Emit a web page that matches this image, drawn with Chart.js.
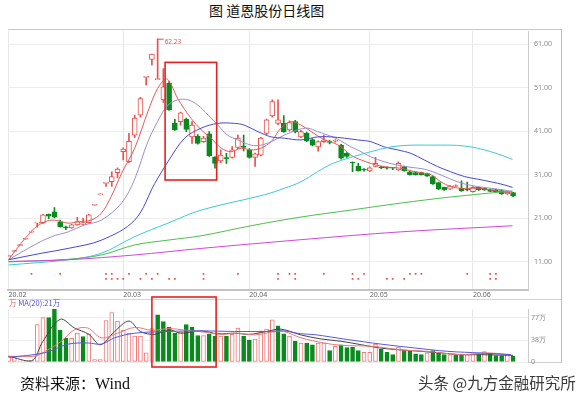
<!DOCTYPE html>
<html>
<head>
<meta charset="utf-8">
<script src="https://cdn.jsdelivr.net/npm/chart.js@4.4.1/dist/chart.umd.min.js"></script>
<style>
  body { margin: 0; background: #fff; width: 577px; height: 400px; position: relative; overflow: hidden; font-family: "Noto Sans CJK SC", sans-serif; }
  canvas { position: absolute; left: 0; }
  #price { top: 0; }
  #vol { top: 290px; }
  .rule { position: absolute; background: #c8c8c8; }
  #title { position: absolute; left: 209px; top: 1px; font-size: 14px; line-height: 18px; color: #111; white-space: nowrap; }
  #volLegend { position: absolute; left: 9px; top: 298px; font-size: 7.5px; line-height: 10px; white-space: nowrap; }
  #source { position: absolute; left: 20px; top: 373px; font-size: 15px; line-height: 20px; color: #111; white-space: nowrap; }
  #source span { font-family: "Liberation Serif", serif; font-size: 16px; }
  #mark { position: absolute; left: 418px; top: 372px; font-size: 15.5px; line-height: 20px; color: #3a3a3a; white-space: nowrap; }
</style>
</head>
<body>
<div id="title">图 道恩股份日线图</div>
<div class="rule" style="left:8px;top:29px;width:553px;height:1px"></div>
<div class="rule" style="left:561px;top:29px;width:1px;height:334px;background:#bdbdbd"></div>
<div class="rule" style="left:8px;top:299px;width:553px;height:1px;background:#d4d4d4"></div>
<div class="rule" style="left:8px;top:362px;width:553px;height:1px;background:#d0d0d0"></div>
<canvas id="price" width="577" height="300"></canvas>
<canvas id="vol" width="577" height="80"></canvas>
<div id="volLegend"><span style="color:#e06060">万</span> <span style="color:#4f4fd0">MA(20):21万</span></div>
<div id="source">资料来源：<span>Wind</span></div>
<div id="mark">头条 @九方金融研究所</div>
<script>
// trading days, 0 = first day of Feb 2020
var dateTicks = [0, 20, 42, 63, 81];
var dateLabels = ["20.02", "20.03", "20.04", "20.05", "20.06"];
var priceTicks = [11, 21, 31, 41, 51, 61];
var volTicks = [0, 38, 77];

var openP = [12.2,13.4,14.75,16.2,17.85,19.9,20.0,22.0,22.5,20.2,
  18.9,18.8,19.5,19.6,20.0,24.0,26.4,29.04,29.4,31.5,
  36.3,34.0,40.1,44.7,53.35,57.5,52.83,48.2,52.0,42.8,
  43.2,43.7,39.7,39.9,38.6,40.4,35.0,34.2,34.9,35.0,
  37.3,37.6,36.7,35.0,35.5,40.5,44.5,42.8,42.8,41.3,
  43.2,39.7,40.5,39.1,37.4,38.6,38.6,38.7,37.8,35.9,
  33.9,33.0,32.2,31.9,32.9,32.8,32.6,32.6,32.1,32.9,
  31.7,31.5,31.5,31.3,30.6,29.2,28.1,27.7,28.3,27.9,
  27.6,27.1,28.1,27.9,27.6,27.6,27.4,26.6,26.9];
var closeP = [12.2,13.4,14.75,16.2,17.85,19.9,21.8,21.5,21.25,19.1,
  18.8,19.5,20.25,20.0,21.8,24.0,26.4,29.04,30.6,32.3,
  36.9,38.7,44.0,48.5,53.35,58.7,52.9,51.2,45.9,41.3,
  45.2,41.4,42.4,38.2,39.4,35.3,33.6,35.5,34.7,36.7,
  39.4,37.3,35.0,35.8,39.4,43.6,47.8,43.6,40.9,43.0,
  40.9,40.9,38.8,37.8,38.6,39.0,38.4,38.9,34.8,35.2,
  33.7,31.9,32.1,32.6,33.6,32.6,32.5,32.5,33.6,31.9,
  31.0,31.0,31.0,30.7,28.9,27.7,27.5,28.4,28.5,27.3,
  27.5,28.1,27.5,27.5,27.2,27.1,26.6,27.1,26.1];
var highP = [12.2,13.4,14.75,16.2,17.85,19.9,21.9,22.0,23.45,20.6,
  19.2,19.6,21.25,21.0,22.0,24.0,26.4,29.04,31.7,32.6,
  37.2,40.5,44.7,48.8,53.35,58.7,62.23,55.4,52.4,43.7,
  45.4,44.0,43.2,40.2,39.8,40.9,35.2,36.7,35.9,37.5,
  40.1,40.1,37.0,36.0,39.6,43.8,48.2,48.2,44.6,43.4,
  43.5,41.2,40.8,39.3,38.8,40.1,38.9,39.1,38.0,36.1,
  34.0,33.6,32.4,32.8,35.0,33.0,32.8,32.7,34.0,33.0,
  31.8,31.6,31.6,31.4,30.7,29.3,28.2,28.5,28.7,29.6,
  29.3,28.3,28.2,28.0,27.7,27.7,27.5,27.2,27.0];
var lowP = [12.2,13.4,14.75,16.2,17.85,19.0,19.8,20.9,21.1,19.0,
  18.4,18.7,19.4,19.6,19.9,24.0,26.4,28.3,28.3,30.3,
  34.4,33.8,39.5,44.2,51.6,56.2,52.83,47.6,45.8,41.2,
  42.4,40.9,38.2,38.0,38.4,35.2,32.5,33.8,33.6,34.8,
  37.0,36.5,34.8,32.9,35.3,40.2,44.2,42.5,40.7,41.0,
  40.6,39.5,38.6,37.6,36.4,38.4,38.1,38.5,34.6,35.0,
  31.7,31.8,31.8,31.7,32.8,32.4,32.3,32.2,32.0,31.8,
  30.9,30.9,30.9,30.6,28.8,27.6,27.4,27.6,28.2,27.2,
  27.3,27.0,27.4,27.4,27.1,27.0,26.5,26.5,26.0];

// volume in 万 shares, volUp 1 = hollow bar
var volume = [10,9,2,2,3,65,77,77,92,55,
  41,41,50,44,49,4,4,72,86,71,
  55,50,45,45,16,58,82,70,60,50,
  52,65,60,46,46,48,45,45,45,48,
  59,45,38,40,54,57,73,63,49,45,
  36,33,33,30,33,33,20,27,30,25,
  26,20,17,17,31,22,17,13,26,20,
  19,14,13,16,20,17,13,13,13,13,
  13,14,13,18,14,11,11,13,10];
var volUp = [1,1,1,1,1,1,1,0,0,0,
  0,1,1,0,1,1,1,1,1,1,
  1,1,1,1,1,1,0,0,0,0,
  1,0,0,0,1,0,0,1,0,1,
  1,0,0,1,1,1,1,0,0,1,
  0,1,0,0,1,1,0,1,0,0,
  0,0,1,1,1,0,0,0,1,0,
  0,0,0,1,0,0,0,1,0,0,
  1,1,0,1,0,0,0,1,0];

// moving averages: [day, value]
var ma5 = [[0,11.5],[2.2,15.3],[4.5,18.7],[6.3,20.2],[8,20.6],[10.4,19.9],[12.1,20.2],[14.4,20.6],[16.2,22.2],[17.9,26],[19.7,31.3],[22,37.1],[24.3,45.5],[26,50.8],[27.5,53],[28.4,51.6],[29.5,48.5],[31.8,44],[33.6,41.3],[35.3,39.4],[37.1,37.1],[38.8,36.3],[40.6,37.1],[42.3,36.7],[44,37.1],[45.8,38.6],[47.5,41.7],[49.3,43.2],[51,42.4],[52.8,40.9],[55.1,39],[56.2,38.6],[58,37.4],[59.7,35.5],[61.5,34.4],[63.2,33.6],[64.9,33],[66.7,32.7],[68.4,32.5],[70.2,31.9],[71.9,31.5],[73.7,31],[75.4,29.4],[77.1,28.3],[78.9,27.9],[80.6,27.9],[82.4,27.9],[84.1,27.5],[85.9,27.1],[87.9,26.8]];
var ma10 = [[0,11.5],[4.5,14.9],[7.5,16.8],[10.4,17.9],[13.3,19.5],[16.2,20.6],[19.7,24.5],[22,30],[24.3,38.6],[26.6,44.7],[27.8,47],[29.5,48.2],[31.3,48.2],[33,47],[34.8,44.7],[36.5,42.4],[38.2,40.1],[40,39],[42.3,37.8],[44,37.8],[45.8,38.6],[48.1,40.1],[50.4,41.3],[52.2,41.7],[53.9,40.9],[55.7,40.1],[57.4,39.2],[59.7,37.4],[60.9,36.7],[63.2,35.1],[65.5,34],[67.9,33.2],[70.2,32.7],[72.5,32.3],[74.8,31.3],[77.1,30],[79.5,28.9],[81.8,28.3],[84.1,27.9],[86.4,27.5],[87.9,27.1]];
var ma20 = [[0,11.5],[5.8,13],[10.4,14.1],[16.2,16],[22,20.6],[25.5,29],[27.8,34],[30.7,39.4],[33.6,41.7],[36.5,42.8],[39.4,42.8],[41.1,42.4],[43.5,40.9],[45.8,39.7],[48.1,39.4],[51,39],[53.9,39.7],[56.2,39.7],[58.6,39.4],[60.9,39],[63.2,38.6],[65.5,37.4],[67.9,36.7],[70.2,35.9],[72.5,34.4],[74.8,32.9],[77.1,31.7],[79.5,30.6],[81.8,30],[84.1,29.4],[86.4,28.7],[87.9,28.1]];
var ma60 = [[0,10.3],[10.4,11.5],[16.2,13],[22,16.8],[27.8,19.9],[33.6,22.9],[44.6,26.4],[48.1,27.9],[51,29.4],[53.9,31.7],[56.2,33.4],[59.7,35],[63.2,36.3],[66.7,37.4],[70.2,37.8],[73.7,37.8],[77.1,37.8],[79.5,37.6],[81.8,37.1],[84.1,36.3],[86.4,35.3],[87.9,34.5]];
var ma120 = [[0,11],[10.4,11.6],[16.2,12.6],[22,14.9],[27.8,16],[33.6,17],[42.3,19.3],[51,21.3],[59.7,22.9],[68.4,24.5],[77.1,25.9],[87.9,27.3]];
var ma250 = [[0,11.1],[10.4,11.5],[22,12.6],[33.6,14.1],[51,16.1],[68.4,17.9],[87.9,19.3]];

var volMa5 = [[0,10],[4,2],[6,36],[9,74],[11.5,59],[14,48],[16,30],[18.5,53],[21,71],[23,53],[25.5,48],[28,56],[30,50],[33.5,54],[36.5,49],[39.5,50],[42,48],[45,53],[47.5,57],[51,47],[54.5,40],[58,36],[61.5,30],[65,24],[68.4,21],[71.9,18.5],[75.4,15.7],[78.9,12.7],[82.4,12.7],[88,11.5]];
var volMa10 = [[0,10],[4.5,10],[6.3,18],[9.2,36],[11.5,56],[13.8,59],[16.2,42],[19,50],[22,60],[25,55],[28,58],[31,55],[34,52],[37,48],[40,50],[43,47],[46,52],[48,53],[51,42],[55,33],[58,29],[63.8,27],[68.4,21],[73,18.5],[78.9,12.7],[83.5,15.7],[87.6,12.7]];
var volMa20 = [[0,8],[6.3,16],[10.4,31],[13.9,33],[16.2,31],[18.5,42],[22,50],[27.8,53],[33.6,54],[39.4,53],[45.2,53],[48,54],[51,49],[53.3,47.6],[59.1,39],[65,31],[70.8,24.4],[76.6,18.5],[82.4,15.7],[87.6,12.7]];

// event marks under the candles
var markRow1 = [4,9,17,18,21,24,26,34,40,47,49,50,55,60,62,70,71,72,80,84,85];
var markRow2 = [17,18,19,20,23,25,28,29,34,47,50,60,61,66,67,69,84,85];

var RED = "#e8504a";
var GREEN = "#0a8a1e";
var days = openP.map(function(v, i) { return i; });
function up(i) { return closeP[i] >= openP[i]; }
function pts(arr) { return arr.map(function(p) { return { x: p[0], y: p[1] }; }); }
function maLine(arr, color) {
  return { type: "line", data: pts(arr), borderColor: color, borderWidth: 1, pointRadius: 0, tension: 0.35, order: 0 };
}

var smallFont = { family: "'Noto Sans', sans-serif", size: 7 };

// red boxes and the 62.23 note
var pricePlugin = {
  id: "priceNotes",
  afterDatasetsDraw: function(chart) {
    var c = chart.ctx, xs = chart.scales.x, ys = chart.scales.y;
    var hi = highP.indexOf(Math.max.apply(null, highP));
    var px = xs.getPixelForValue(hi), py = ys.getPixelForValue(highP[hi]);
    c.save();
    c.strokeStyle = RED; c.lineWidth = 1;
    c.beginPath(); c.moveTo(px, py + 0.5); c.lineTo(px + 6, py + 0.5); c.stroke();
    c.fillStyle = RED; c.font = "6.5px 'Noto Sans'"; c.textBaseline = "middle";
    c.fillText(highP[hi].toFixed(2), px + 7, py + 3);
    c.strokeStyle = "#e8211e"; c.lineWidth = 1.6;
    var x1 = xs.getPixelForValue(27.3), x2 = xs.getPixelForValue(36.3);
    var y1 = ys.getPixelForValue(56.8), y2 = ys.getPixelForValue(29.8);
    c.strokeRect(x1, y1, x2 - x1, y2 - y1);
    c.restore();
  }
};
var volPlugin = {
  id: "volBox",
  afterDatasetsDraw: function(chart) {
    var c = chart.ctx, xs = chart.scales.x, a = chart.chartArea;
    var x1 = xs.getPixelForValue(25), x2 = xs.getPixelForValue(36.2);
    c.save();
    c.strokeStyle = "#e8211e"; c.lineWidth = 1.6;
    c.strokeRect(x1, a.top - 12, x2 - x1, a.bottom - a.top + 17);
    c.restore();
  }
};

var xBase = {
  type: "linear", min: -0.1, max: 90.6, offset: false,
  afterBuildTicks: function(s) { s.ticks = dateTicks.map(function(v) { return { value: v }; }); },
  grid: { color: "#e6e6e6", drawTicks: false, offset: false }
};

new Chart(document.getElementById("price"), {
  type: "bar",
  data: {
    datasets: [
      maLine(ma250, "#d048d8"),
      maLine(ma120, "#4cbf4c"),
      maLine(ma60, "#3cc8dc"),
      maLine(ma20, "#4848d0"),
      maLine(ma10, "#9a90c8"),
      maLine(ma5, "#e05a5a"),
      {
        data: days.map(function(i) { return { x: i, y: [lowP[i], highP[i]] }; }),
        backgroundColor: days.map(function(i) { return up(i) ? RED : GREEN; }),
        barThickness: 1, minBarLength: 1, grouped: false, order: 2
      },
      {
        data: days.map(function(i) { return { x: i, y: [openP[i], closeP[i]] }; }),
        backgroundColor: days.map(function(i) { return up(i) ? "#ffffff" : GREEN; }),
        borderColor: days.map(function(i) { return up(i) ? RED : GREEN; }),
        borderWidth: 1, borderSkipped: false, barThickness: 5, minBarLength: 1, grouped: false, order: 1
      },
      {
        type: "scatter",
        data: markRow1.map(function(i) { return { x: i, y: 8.25 }; }).concat(markRow2.map(function(i) { return { x: i, y: 7.1 }; })),
        pointStyle: "rect", pointRadius: 1.2, backgroundColor: RED, borderWidth: 0, order: 0
      }
    ]
  },
  options: {
    responsive: false, animation: false,
    layout: { padding: { left: 8, right: 16, top: 31, bottom: 0 } },
    plugins: { legend: { display: false }, tooltip: { enabled: false } },
    scales: {
      x: Object.assign({}, xBase, {
        position: "bottom",
        afterFit: function(s) { s.height = 10; },
        ticks: { align: "start", padding: 1, maxRotation: 0, autoSkip: false, font: smallFont, color: "#666",
          callback: function(v) { return dateLabels[dateTicks.indexOf(v)]; } },
        border: { color: "#c4c4c4", width: 2 }
      }),
      y: {
        position: "right", min: 4.6, max: 64,
        afterBuildTicks: function(s) { s.ticks = priceTicks.map(function(v) { return { value: v }; }); },
        afterFit: function(s) { s.width = 33; },
        ticks: { padding: 6, font: smallFont, color: "#888", callback: function(v) { return v.toFixed(2); } },
        grid: { color: "#ededed", drawTicks: false },
        border: { color: "#cccccc" }
      }
    }
  },
  plugins: [pricePlugin]
});

new Chart(document.getElementById("vol"), {
  type: "bar",
  data: {
    datasets: [
      { type: "line", data: pts(volMa20), borderColor: "#5858e0", borderWidth: 1, pointRadius: 0, tension: 0.35, order: 0 },
      { type: "line", data: pts(volMa10), borderColor: "#e87878", borderWidth: 1, pointRadius: 0, tension: 0.35, order: 0 },
      { type: "line", data: pts(volMa5), borderColor: "#444444", borderWidth: 1, pointRadius: 0, tension: 0.35, order: 0 },
      {
        data: days.map(function(i) { return { x: i, y: volume[i] }; }),
        backgroundColor: days.map(function(i) { return volUp[i] ? "#ffffff" : GREEN; }),
        borderColor: days.map(function(i) { return volUp[i] ? "#f07878" : GREEN; }),
        borderWidth: 1, borderSkipped: false, barThickness: 4, grouped: false, order: 1
      }
    ]
  },
  options: {
    responsive: false, animation: false,
    layout: { padding: { left: 8, right: 16, top: 19, bottom: 8 } },
    plugins: { legend: { display: false }, tooltip: { enabled: false } },
    scales: {
      x: Object.assign({}, xBase, {
        afterFit: function(s) { s.height = 0; },
        ticks: { display: false },
        border: { display: false }
      }),
      y: {
        position: "right", min: 0, max: 92,
        afterBuildTicks: function(s) { s.ticks = volTicks.map(function(v) { return { value: v }; }); },
        afterFit: function(s) { s.width = 33; },
        ticks: { padding: 3, font: smallFont, color: "#888", callback: function(v) { return v === 0 ? "0" : v + "万"; } },
        grid: { color: "#ededed", drawTicks: false },
        border: { color: "#cccccc" }
      }
    }
  },
  plugins: [volPlugin]
});
</script>
</body>
</html>
